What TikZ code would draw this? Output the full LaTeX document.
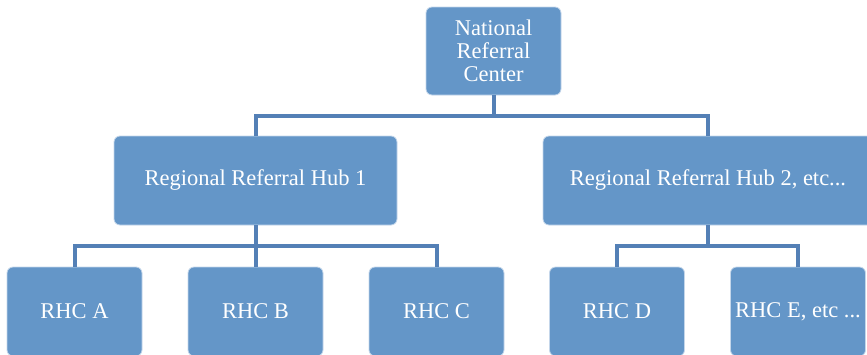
\documentclass[tikz,border=0pt]{standalone}
\usepackage{fontspec}
\setmainfont{Liberation Serif}
\definecolor{boxblue}{RGB}{100,150,200}
\definecolor{linkblue}{RGB}{84,128,182}
\definecolor{rimblue}{RGB}{196,214,234}
\begin{document}
\begin{tikzpicture}[x=1pt,y=-1pt,
  orgbox/.style={draw=rimblue, line width=0.8pt, fill=boxblue, rounded corners=6pt,
    text=white, align=center, inner sep=0pt,
    font=\fontsize{22.5}{23}\selectfont},
  smallbox/.style={orgbox, minimum width=135pt, minimum height=89pt},
  link/.style={draw=linkblue, line width=4pt, line join=miter}]
\useasboundingbox (0,0) rectangle (867,354);
\clip (0,0) rectangle (867,354);

% top level
\node[orgbox, minimum width=135pt, minimum height=88pt] (nrc) at (493.5,51) {National\\Referral\\Center};

% regional hubs
\node[orgbox, minimum width=283pt, minimum height=89pt] (hub1) at (255.5,180.5) {Regional Referral Hub 1};
\node[orgbox, minimum width=330pt, minimum height=89pt] (hub2) at (708,180.5) {Regional Referral Hub 2, etc...};

% regional health centres
\node[smallbox] (rhca) at (74.5,311.5) {RHC A};
\node[smallbox] (rhcb) at (255.5,311.5) {RHC B};
\node[smallbox] (rhcc) at (436.5,311.5) {RHC C};
\node[smallbox] (rhcd) at (617,311.5) {RHC D};
\node[smallbox] (rhce) at (798,311.5) {RHC E, etc ...};

% connectors
\draw[link] (nrc.south) -- ++(0,21) -| (hub1.north);
\draw[link] (nrc.south) -- ++(0,21) -| (hub2.north);
\draw[link] (hub1.south) -- ++(0,21) -| (rhca.north);
\draw[link] (hub1.south) -- (rhcb.north);
\draw[link] (hub1.south) -- ++(0,21) -| (rhcc.north);
\draw[link] (hub2.south) -- ++(0,21) -| (rhcd.north);
\draw[link] (hub2.south) -- ++(0,21) -| (rhce.north);
\end{tikzpicture}
\end{document}
